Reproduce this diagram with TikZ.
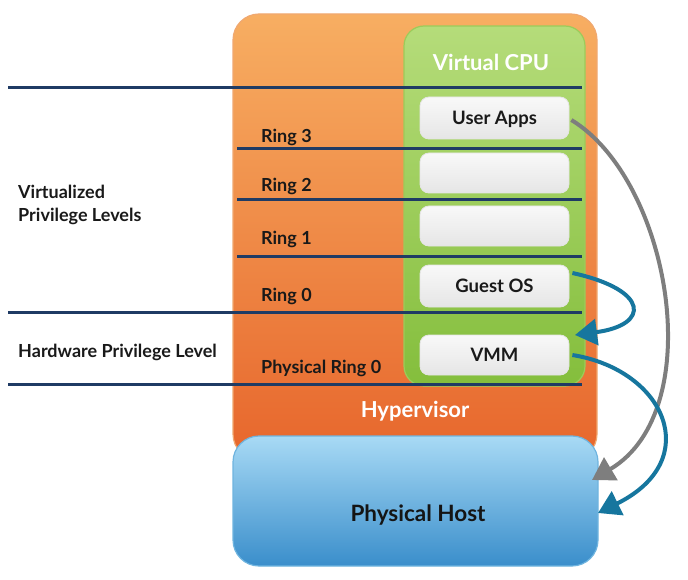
\documentclass[tikz,border=0pt]{standalone}
\usepackage{fontspec}
\setmainfont{Lato}
\usetikzlibrary{arrows.meta}
\definecolor{navy}{HTML}{1F3B64}
\definecolor{orTop}{HTML}{F7AE62}
\definecolor{orBot}{HTML}{E7662C}
\definecolor{orEdge}{HTML}{F0A870}
\definecolor{grTop}{HTML}{B5DC7A}
\definecolor{grBot}{HTML}{84BE3C}
\definecolor{grEdge}{HTML}{9CCB5A}
\definecolor{blTop}{HTML}{A8DAF5}
\definecolor{blBot}{HTML}{3A8ECB}
\definecolor{blEdge}{HTML}{6FB4DF}
\definecolor{teal}{HTML}{16769E}
\definecolor{grayarr}{HTML}{7E7E7E}
\tikzset{
  lvl/.style={draw=navy, line width=3pt},
  gbox/.style={draw=white!80!gray, line width=0.8pt, rounded corners=9pt, top color=white!95!gray, bottom color=white!80!gray, minimum width=149pt, text depth=0pt, font=\bfseries\fontsize{18.5}{21}\selectfont, text=black!90},
  lab/.style={anchor=west, font=\bfseries\fontsize{18}{23}\selectfont, text=black!90, inner sep=0pt},
  wlab/.style={font=\bfseries\fontsize{22}{26}\selectfont, text=white},
  arr/.style={line width=4pt, -{Triangle[length=22pt,width=26pt]}}
}
\begin{document}
\begin{tikzpicture}[x=1pt,y=-1pt]
\useasboundingbox (0,0) rectangle (688,580);
% hypervisor
\draw[orEdge, line width=1.2pt, rounded corners=26pt, top color=orTop, bottom color=orBot] (233,14) rectangle (597,460);
\node[wlab] (hyp) at (415,411) {Hypervisor};
% virtual cpu
\draw[grEdge, line width=1.2pt, rounded corners=20pt, top color=grTop, bottom color=grBot] (404,26) rectangle (585,386);
\node[wlab] (vcpu) at (491,62) {Virtual CPU};
% gray boxes
\node[gbox, minimum height=42pt] (apps) at (494.5,118) {User Apps};
\node[gbox, minimum height=40pt] (e2) at (494.5,173) {};
\node[gbox, minimum height=40pt] (e1) at (494.5,226) {};
\node[gbox, minimum height=42pt] (guest) at (494.5,286) {Guest OS};
\node[gbox, minimum height=40pt] (vmm) at (494.5,355) {VMM};
% level lines
\draw[lvl] (8,88) -- (582,88);
\draw[lvl] (237,149) -- (582,149);
\draw[lvl] (237,200) -- (582,200);
\draw[lvl] (237,256) -- (582,256);
\draw[lvl] (8,312) -- (582,312);
\draw[lvl] (8,384) -- (582,384);
% labels
\node[lab] (r3) at (261,137) {Ring 3};
\node[lab] (r2) at (261,186) {Ring 2};
\node[lab] (r1) at (261,239) {Ring 1};
\node[lab] (r0) at (261,296) {Ring 0};
\node[lab] (pr0) at (261,368) {Physical Ring 0};
\node[lab, align=left] (vpl) at (18,205) {Virtualized\\Privilege Levels};
\node[lab] (hpl) at (18,352) {Hardware Privilege Level};
% physical host
\draw[blEdge, line width=1.2pt, rounded corners=26pt, top color=blTop, bottom color=blBot] (233,436) rectangle (598,566);
\node[font=\bfseries\fontsize{22.5}{26}\selectfont, text=black!92] (host) at (418,515) {Physical Host};
\coordinate (hostE1) at (592,480);
\coordinate (hostE2) at (598,513);
\coordinate (vmmIn) at (575,335);
% arrows
\draw[arr, grayarr] ([xshift=2pt,yshift=-2pt]apps.east) .. controls (670,180) and (710,410) .. (hostE1);
\draw[arr, teal] ([xshift=3pt,yshift=13pt]guest.east) .. controls (650,290) and (650,325) .. (vmmIn);
\draw[arr, teal] ([xshift=3pt]vmm.east) .. controls (665,370) and (705,460) .. (hostE2);
\end{tikzpicture}
\end{document}
